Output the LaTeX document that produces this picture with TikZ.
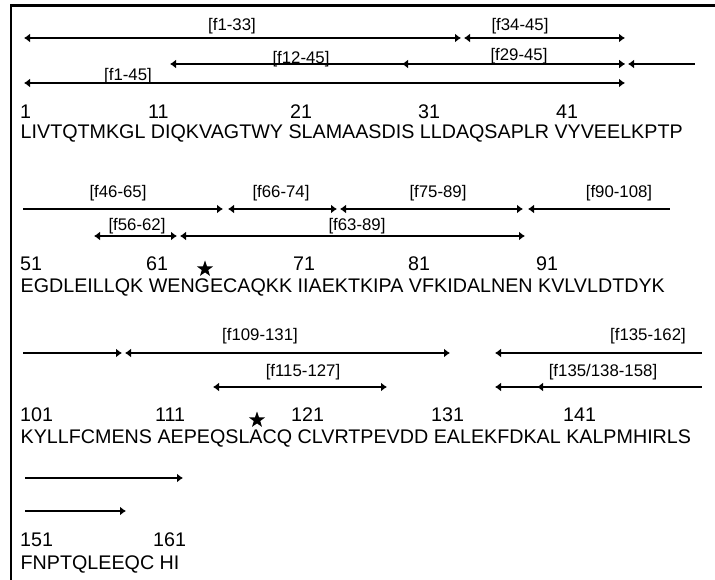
\documentclass[tikz,border=0pt]{standalone}
\usepackage{fontspec}
\setmainfont{Liberation Sans}
\usetikzlibrary{arrows.meta, shapes.geometric}

\begin{document}
\begin{tikzpicture}[x=1pt, y=-1pt,
        >={Latex[length=6pt,width=9pt]},
        frag/.style={line width=1.5pt},
        seq/.style={anchor=base west, inner sep=0pt, font=\fontsize{19.7}{21}\selectfont},
        lbl/.style={inner sep=0pt, font=\fontsize{16.8}{18}\selectfont},
        cysstar/.style={star, star points=5, star point ratio=2.5, fill=black, minimum size=17pt, inner sep=0pt}]
        \useasboundingbox (0,0) rectangle (715,580);

        % Frame
        \draw[line width=2.2pt] (715,5.5) -- (11,5.5) -- (11,580);

        % Residues 1-50
        \draw[frag, <->] (24,38) -- (461,38);
        \draw[frag, <->] (464,38) -- (625,38);
        \draw[frag, <->] (170,64) -- (625,64);
        \draw[frag, <->] (402,64) -- (625,64);
        \draw[frag, <-] (628,64) -- (695,64);
        \draw[frag, <->] (24,83) -- (625,83);
        \node[lbl] (f1to33) at (232,26) {[f1-33]};
        \node[lbl] (f34to45) at (520,26) {[f34-45]};
        \node[lbl] (f12to45) at (301,59) {[f12-45]};
        \node[lbl] (f29to45) at (519,56) {[f29-45]};
        \node[lbl] (f1to45) at (128,76.5) {[f1-45]};
        \foreach \n/\x in {1/20, 11/148, 21/290, 31/418, 41/556}
            \node[seq] (n\n) at (\x,119) {\n};
        \node[seq] (s1) at (20.5,139) {LIVTQTMKGL DIQKVAGTWY SLAMAASDIS LLDAQSAPLR VYVEELKPTP};

        % Residues 51-100
        \draw[frag, ->] (23,209) -- (223,209);
        \draw[frag, <->] (228,209) -- (337,209);
        \draw[frag, <->] (340,209) -- (523,209);
        \draw[frag, <-] (528,209) -- (670,209);
        \draw[frag, <->] (94,236) -- (177,236);
        \draw[frag, <->] (180,236) -- (525,236);
        \node[lbl] (f46to65) at (118,193.5) {[f46-65]};
        \node[lbl] (f66to74) at (281,193.5) {[f66-74]};
        \node[lbl] (f75to89) at (438,193.5) {[f75-89]};
        \node[lbl] (f90to108) at (619,193.5) {[f90-108]};
        \node[lbl] (f56to62) at (137,226.5) {[f56-62]};
        \node[lbl] (f63to89) at (357,226.5) {[f63-89]};
        \foreach \n/\x in {51/20, 61/146, 71/293, 81/408, 91/536}
            \node[seq] (n\n) at (\x,271) {\n};
        \node[cysstar] (cys1) at (205,269) {};
        \node[seq] (s51) at (20.5,292) {EGDLEILLQK WENGECAQKK IIAEKTKIPA VFKIDALNEN KVLVLDTDYK};

        % Residues 101-150
        \draw[frag, ->] (23,353) -- (122,353);
        \draw[frag, <->] (125,353) -- (450,353);
        \draw[frag, <-] (495,353) -- (702,353);
        \draw[frag, <->] (213,387) -- (387,387);
        \draw[frag, <-] (495,387) -- (702,387);
        \draw[frag, <-] (537,387) -- (702,387);
        \node[lbl] (f109to131) at (260,336) {[f109-131]};
        \node[lbl] (f135to162) at (648,336) {[f135-162]};
        \node[lbl] (f115to127) at (303,372.5) {[f115-127]};
        \node[lbl] (f135to158) at (603,372.5) {[f135/138-158]};
        \foreach \n/\x in {101/20, 111/155, 121/291, 131/431, 141/563}
            \node[seq] (n\n) at (\x,421) {\n};
        \node[cysstar] (cys2) at (257,420) {};
        \node[seq] (s101) at (20.5,443) {KYLLFCMENS AEPEQSLACQ CLVRTPEVDD EALEKFDKAL KALPMHIRLS};

        % Residues 151-162
        \draw[frag, ->] (25,478) -- (183,478);
        \draw[frag, ->] (25,511) -- (126,511);
        \foreach \n/\x in {151/20, 161/153}
            \node[seq] (n\n) at (\x,546) {\n};
        \node[seq] (s151) at (20.5,569) {FNPTQLEEQC HI};
\end{tikzpicture}
\end{document}
